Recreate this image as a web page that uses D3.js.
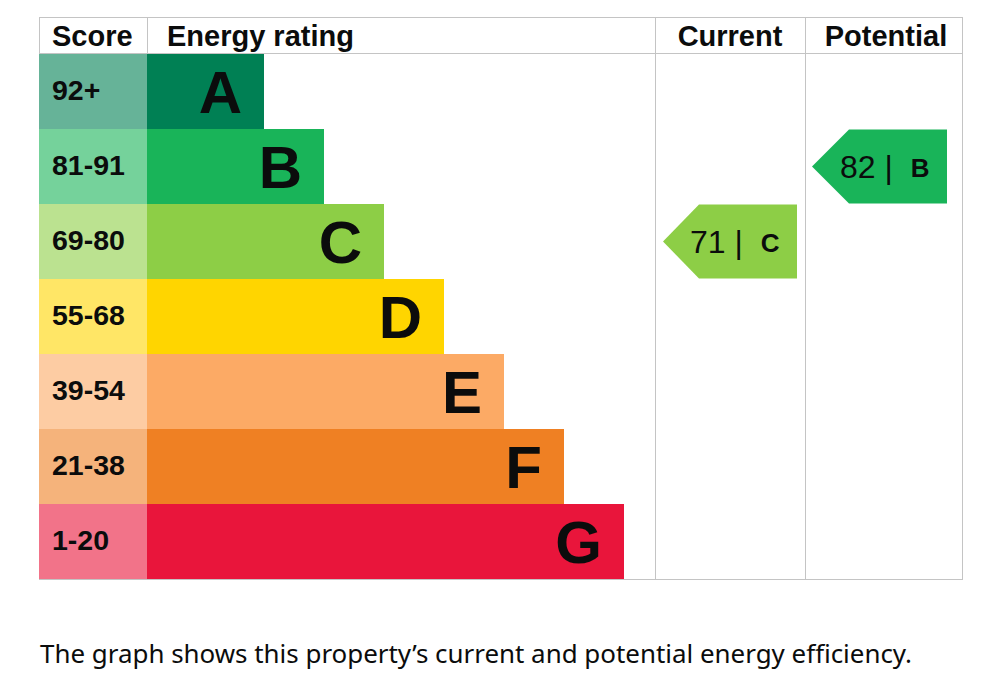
<!DOCTYPE html>
<html><head><meta charset="utf-8">
<script src="https://cdn.jsdelivr.net/npm/d3@7"></script>
<style>body{margin:0;background:#fff}svg{display:block}
.ls{font-family:"Liberation Sans","Arial",sans-serif}</style>
</head><body>
<svg id="chart" width="995" height="697"></svg>
<script>
const bands = ["A","B","C","D","E","F","G"];
const scoreLabels = ["92+","81-91","69-80","55-68","39-54","21-38","1-20"];
const bandMins = [92,81,69,55,39,21,1];
const bandColors = ["#008054","#19b459","#8dce46","#ffd500","#fcaa65","#ef8023","#e9153b"];
const headers = ["Score","Energy rating","Current","Potential"];
const currentScore = 71;
const potentialScore = 82;
const caption = "The graph shows this property’s current and potential energy efficiency.";

(function(){
const svg = d3.select("#chart");
const L = 39, R = 962, T = 17, headBottom = 54, B = 579;
const colX = [39,147,655,805,962];

const y = d3.scaleBand().domain(bands).range([headBottom, B]).padding(0);
const xBar = d3.scaleLinear().domain([0,6]).range([264,624]);
const bandOf = s => bands[bandMins.findIndex(m => s >= m)];

// grid lines
const g = svg.append("g").attr("stroke","#c4c4c4").attr("stroke-width",1).attr("shape-rendering","crispEdges");
g.append("line").attr("x1",L).attr("x2",R).attr("y1",T+0.5).attr("y2",T+0.5);
g.append("line").attr("x1",L).attr("x2",R).attr("y1",headBottom-0.5).attr("y2",headBottom-0.5);
g.append("line").attr("x1",L).attr("x2",R).attr("y1",B+0.5).attr("y2",B+0.5);
g.append("line").attr("x1",L+0.5).attr("x2",L+0.5).attr("y1",T).attr("y2",headBottom);
g.append("line").attr("x1",colX[1]+0.5).attr("x2",colX[1]+0.5).attr("y1",T).attr("y2",headBottom);
[colX[2],colX[3],colX[4]].forEach(x => g.append("line").attr("x1",x+0.5).attr("x2",x+0.5).attr("y1",T).attr("y2",B+1));

// headers
const hx = [52,167,730,886];
const anchors = ["start","start","middle","middle"];
svg.selectAll("text.head").data(headers).join("text").attr("class","head ls")
  .attr("x",(d,i)=>hx[i]).attr("y",46).attr("text-anchor",(d,i)=>anchors[i])
  .attr("font-weight","bold")
  .attr("font-size",29).attr("fill","#0b0c0c").text(d=>d);

// score cells
svg.selectAll("rect.score").data(bands).join("rect").attr("class","score")
  .attr("x",colX[0]).attr("width",colX[1]-colX[0])
  .attr("y",d=>y(d)).attr("height",y.bandwidth())
  .attr("fill",(d,i)=>bandColors[i]).attr("fill-opacity",0.6);
svg.selectAll("text.score").data(scoreLabels).join("text").attr("class","score ls")
  .attr("x",52).attr("y",(d,i)=>y(bands[i])+y.bandwidth()/2+8.5)
  .attr("font-weight","bold")
  .attr("font-size",28.5).attr("fill","#0b0c0c").text(d=>d);

// bars
svg.selectAll("rect.bar").data(bands).join("rect").attr("class","bar")
  .attr("x",colX[1]).attr("width",(d,i)=>xBar(i)-colX[1])
  .attr("y",d=>y(d)).attr("height",y.bandwidth())
  .attr("fill",(d,i)=>bandColors[i]);
svg.selectAll("text.letter").data(bands).join("text").attr("class","letter ls")
  .attr("x",(d,i)=>xBar(i)-22).attr("y",d=>y(d)+y.bandwidth()/2+21.5)
  .attr("text-anchor","end")
  .attr("font-weight","bold")
  .attr("font-size",60).attr("fill","#0b0c0c").text(d=>d);

// arrows
function arrow(score, colLeft, tipOffset, rectLeftOff, rectRightOff){
  const b = bandOf(score), i = bands.indexOf(b);
  const y0 = y(b)+0.5, y1 = y(b)+y.bandwidth()-0.5, ym = (y0+y1)/2;
  const tip = colLeft+tipOffset, rl = colLeft+rectLeftOff, rr = colLeft+rectRightOff;
  svg.append("path").attr("d",`M${tip},${ym}L${rl},${y0}L${rr},${y0}L${rr},${y1}L${rl},${y1}Z`)
    .attr("fill",bandColors[i]);
  const t = svg.append("text").attr("class","ls").attr("x",colLeft+35).attr("y",ym+11)
    .attr("fill","#0b0c0c");
  t.append("tspan").attr("font-size",32).text(score + " |");
  t.append("tspan").attr("font-size",26).attr("font-weight","bold").attr("dx",18).attr("dy",-1).text(b);
}
arrow(currentScore, colX[2], 8, 44, 142);
arrow(potentialScore, colX[3], 7, 44, 142);

// caption
svg.append("text").attr("x",40).attr("y",663)
  .style("font-family","'Noto Sans','Open Sans',sans-serif").attr("font-size",25)
  .attr("fill","#0b0c0c").attr("textLength",872).attr("lengthAdjust","spacingAndGlyphs")
  .text(caption);
})();
</script>
</body></html>
